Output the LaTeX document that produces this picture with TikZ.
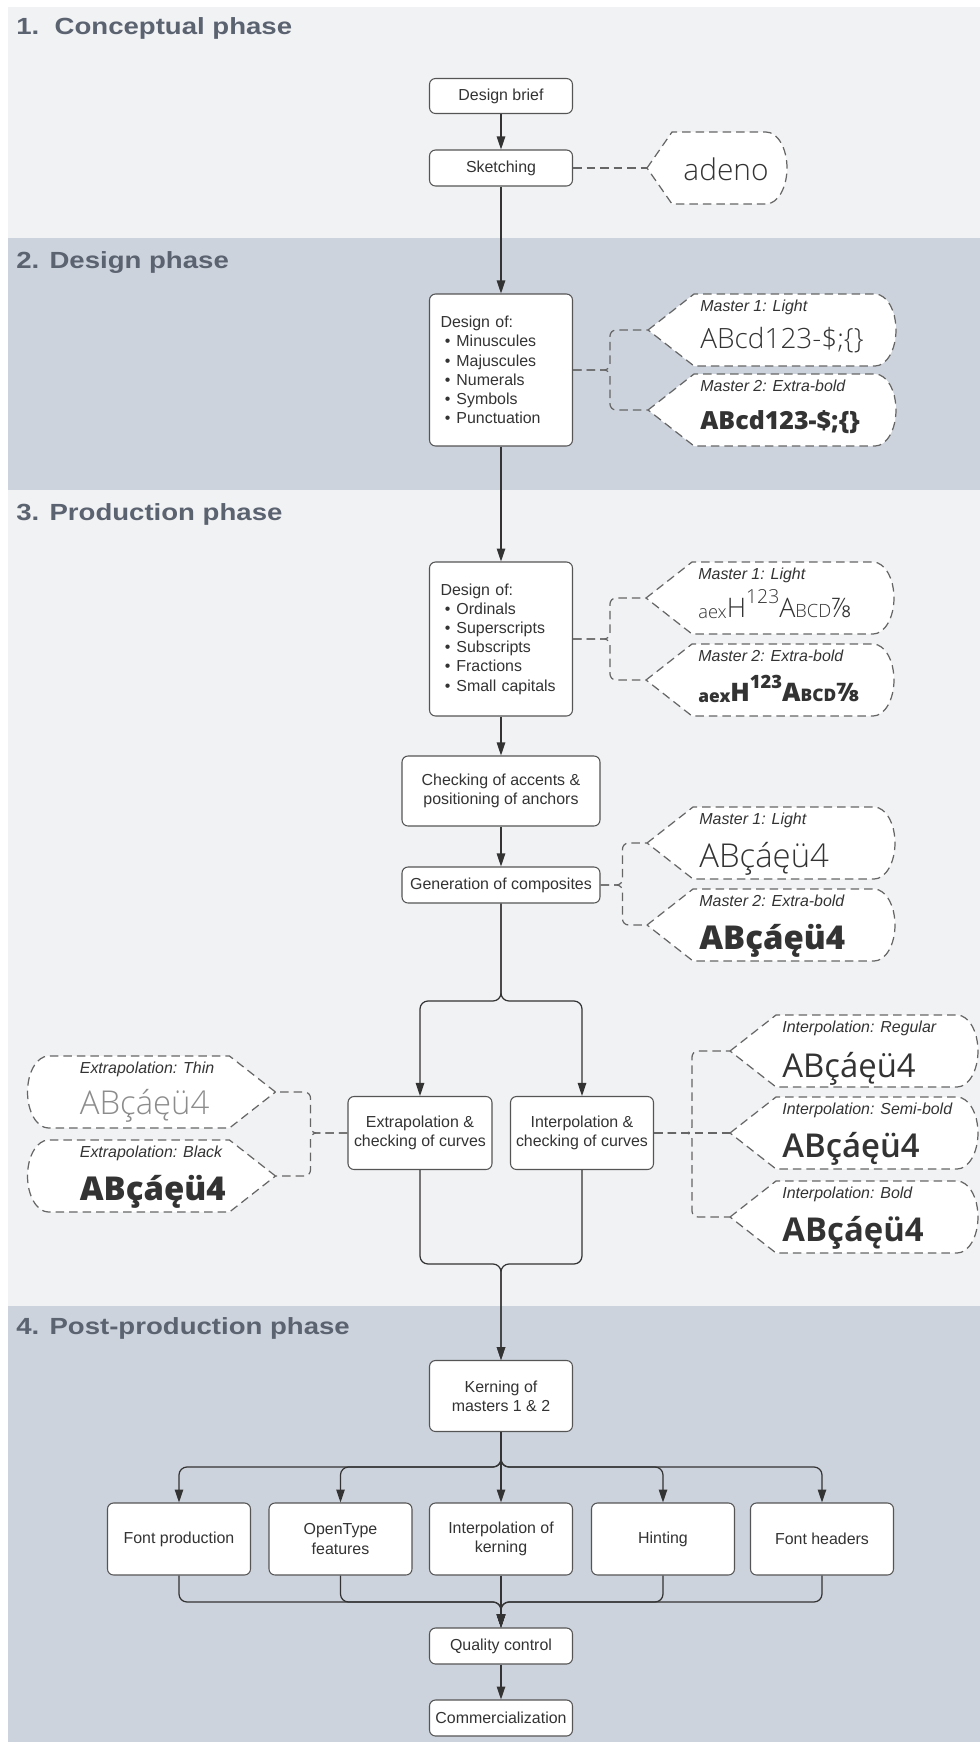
\documentclass[tikz,border=0pt]{standalone}
\usepackage{fontspec}
\usepackage{graphicx}
\usepackage{xcolor}
\usetikzlibrary{arrows.meta,calc}

\setmainfont{Liberation Sans}
\newfontfamily\headfont{Liberation Sans}[FakeStretch=1.18]
\newfontfamily\osreg{Open Sans}
\IfFontExistsTF{Open Sans Light}{\newfontfamily\oslight{Open Sans Light}}{\newfontfamily\oslight{Open Sans}}
\IfFontExistsTF{Open Sans Semibold}{\newfontfamily\ossemi{Open Sans Semibold}}{%
  \IfFontExistsTF{Open Sans SemiBold}{\newfontfamily\ossemi{Open Sans SemiBold}}{\newfontfamily\ossemi{Open Sans Bold}}}
\IfFontExistsTF{Open Sans Bold}{\newfontfamily\osbold{Open Sans Bold}}{\newfontfamily\osbold{Open Sans}}
\IfFontExistsTF{Open Sans Extrabold}{\newfontfamily\osxbold{Open Sans Extrabold}}{%
  \IfFontExistsTF{Open Sans ExtraBold}{\newfontfamily\osxbold{Open Sans ExtraBold}}{\newfontfamily\osxbold{Open Sans Bold}}}

\definecolor{bandlight}{HTML}{F1F2F4}
\definecolor{banddark}{HTML}{CDD3DC}
\definecolor{headgray}{HTML}{5B6270}
\definecolor{ink}{HTML}{333333}
\definecolor{boxline}{HTML}{555555}
\definecolor{dashgray}{HTML}{666666}
\definecolor{thingray}{HTML}{8C8C8C}

\newcommand\boxfont{\fontsize{9.07pt}{10.9pt}\selectfont}
\newcommand\tagfont{\fontsize{9.07pt}{10.9pt}\selectfont\itshape}
\newcommand\phasefont{\headfont\bfseries\fontsize{13.3pt}{16pt}\selectfont}
\newcommand\glyphsize[1]{\fontsize{#1}{#1}\selectfont}
\newcommand\bul{\hspace*{0.28em}\textbullet\hspace{0.37em}}
\newcommand\seveneighths{\iffontchar\font"215E \char"215E \else\raisebox{0.4em}{\scalebox{0.5}{7}}/\scalebox{0.5}{8}\fi}
\newcommand\ordsample{\raisebox{-0.06em}{\scalebox{0.68}{aex}}H\raisebox{0.5em}{\scalebox{0.72}{123}}A\scalebox{0.68}{BCD}\seveneighths}

% display callout, point on the left
\newcommand\calloutR[5]{%
  \node[frame] (#1) at #2 {};
  \draw[outline] (#1.west) -- ($(#1.north west)+(46,0)$) -- ($(#1.north east)+(-21,0)$)
    arc[start angle=90, end angle=-90, x radius=21, y radius=36] -- ($(#1.south west)+(46,0)$) -- cycle;
  \node[tag] (#1-tag) at ($(#1.north west)+(52,-17)$) {#3};
  \node[sample] (#1-txt) at ($(#1.north west)+(52,-#5)$) {#4};}
% display callout, point on the right
\newcommand\calloutL[5]{%
  \node[frame] (#1) at #2 {};
  \draw[outline] (#1.east) -- ($(#1.north east)+(-46,0)$) -- ($(#1.north west)+(21,0)$)
    arc[start angle=90, end angle=270, x radius=21, y radius=36] -- ($(#1.south east)+(-46,0)$) -- cycle;
  \node[tag] (#1-tag) at ($(#1.north west)+(52,-17)$) {#3};
  \node[sample] (#1-txt) at ($(#1.north west)+(52,-#5)$) {#4};}

\begin{document}
\begin{tikzpicture}[
    x=0.02cm, y=0.02cm,
    box/.style={draw=boxline, fill=white, rounded corners=0.12cm, line width=0.6pt,
                font=\boxfont, text=ink, align=center, inner sep=0.1cm,
                minimum width=2.86cm, minimum height=0.72cm},
    listbox/.style={box, align=left, text width=2.42cm, inner xsep=0.22cm},
    arrow/.style={-{Triangle[length=0.26cm, width=0.17cm]}, draw=ink, line width=0.7pt},
    link/.style={draw=dashgray, line width=0.7pt, dash pattern=on 0.17cm off 0.1cm},
    outline/.style={draw=dashgray, fill=white, line width=0.7pt, dash pattern=on 0.17cm off 0.1cm},
    frame/.style={minimum width=4.96cm, minimum height=1.44cm, inner sep=0pt, outer sep=0pt},
    tag/.style={anchor=base west, inner sep=0pt, font=\tagfont, text=ink},
    sample/.style={anchor=base west, inner sep=0pt, text=ink},
    phase/.style={anchor=base west, inner sep=0pt, font=\phasefont, text=headgray}
  ]
  \useasboundingbox (0,0) rectangle (980,-1742);

  % phase bands
  \fill[bandlight] (8,-7) rectangle (980,-238);
  \fill[banddark] (8,-238) rectangle (980,-490);
  \fill[bandlight] (8,-490) rectangle (980,-1306);
  \fill[banddark] (8,-1306) rectangle (980,-1742);

  \node[phase] (ph1) at (16,-34.5) {1.\ \ Conceptual phase};
  \node[phase] (ph2) at (16,-268) {2. Design phase};
  \node[phase] (ph3) at (16,-520) {3. Production phase};
  \node[phase] (ph4) at (16,-1334) {4. Post-production phase};

  % conceptual phase
  \node[box, minimum height=0.7cm] (brief) at (501,-96) {Design brief};
  \node[box] (sketch) at (501,-168) {Sketching};
  \node[frame, minimum width=2.8cm] (adeno) at (717,-168) {};
  \draw[outline] (adeno.west) -- ($(adeno.north west)+(25,0)$) -- ($(adeno.north east)+(-21,0)$)
    arc[start angle=90, end angle=-90, x radius=21, y radius=36] -- ($(adeno.south west)+(25,0)$) -- cycle;
  \node[sample, anchor=base] (adeno-txt) at (726,-180) {\oslight\glyphsize{17pt}adeno};

  \draw[arrow] (brief) -- (sketch);
  \draw[link] (sketch) -- (adeno.west);

  % design phase
  \node[listbox, minimum height=3.04cm] (des1) at (501,-370)
    {Design of:\\\bul Minuscules\\\bul Majuscules\\\bul Numerals\\\bul Symbols\\\bul Punctuation};
  \draw[arrow] (sketch) -- (des1);

  \calloutR{m1a}{(772,-330)}{Master 1: Light}{\oslight\glyphsize{15.9pt}ABcd123-\$;\{\}}{54}
  \calloutR{m2a}{(772,-410)}{Master 2: Extra-bold}{\osxbold\glyphsize{14.2pt}ABcd123-\$;\{\}}{55}
  \draw[link, rounded corners=0.12cm] (des1.east) -- ++(37,0) |- (m1a.west);
  \draw[link, rounded corners=0.12cm] (des1.east) -- ++(37,0) |- (m2a.west);

  % production phase
  \node[listbox, minimum height=3.08cm] (des2) at (501,-639)
    {Design of:\\\bul Ordinals\\\bul Superscripts\\\bul Subscripts\\\bul Fractions\\\bul Small capitals};
  \draw[arrow] (des1) -- (des2);

  \calloutR{m1b}{(770,-598)}{Master 1: Light}{\oslight\glyphsize{15.3pt}\ordsample}{55}
  \calloutR{m2b}{(770,-680)}{Master 2: Extra-bold}{\osxbold\glyphsize{14.5pt}\ordsample}{57}
  \draw[link, rounded corners=0.12cm] (des2.east) -- ++(37,0) |- (m1b.west);
  \draw[link, rounded corners=0.12cm] (des2.east) -- ++(37,0) |- (m2b.west);

  \node[box, minimum width=3.96cm, minimum height=1.4cm] (accents) at (501,-791)
    {Checking of accents \&\\positioning of anchors};
  \node[box, minimum width=3.96cm] (comp) at (501,-885) {Generation of composites};
  \draw[arrow] (des2) -- (accents);
  \draw[arrow] (accents) -- (comp);

  \calloutR{m1c}{(771,-843)}{Master 1: Light}{\oslight\glyphsize{18.7pt}ABçáęü4}{60}
  \calloutR{m2c}{(771,-925)}{Master 2: Extra-bold}{\osxbold\glyphsize{18.7pt}ABçáęü4}{60}
  \draw[link, rounded corners=0.12cm] (comp.east) -- ++(22,0) |- (m1c.west);
  \draw[link, rounded corners=0.12cm] (comp.east) -- ++(22,0) |- (m2c.west);

  \node[box, minimum width=2.88cm, minimum height=1.46cm] (extra) at (420,-1133)
    {Extrapolation \&\\checking of curves};
  \node[box, minimum height=1.46cm] (inter) at (582,-1133)
    {Interpolation \&\\checking of curves};
  \coordinate (split) at (501,-1001);
  \draw[arrow, rounded corners=0.16cm] (comp.south) -- (split) -| (extra.north);
  \draw[arrow, rounded corners=0.16cm] (comp.south) -- (split) -| (inter.north);

  \calloutL{xthin}{(151.5,-1092)}{Extrapolation: Thin}{\color{thingray}\oslight\glyphsize{18.7pt}ABçáęü4}{58}
  \calloutL{xblack}{(151.5,-1176)}{Extrapolation: Black}{\osxbold\glyphsize{18.7pt}ABçáęü4}{60}
  \draw[link, rounded corners=0.12cm] (extra.west) -- ++(-37,0) |- (xthin.east);
  \draw[link, rounded corners=0.12cm] (extra.west) -- ++(-37,0) |- (xblack.east);

  \calloutR{ireg}{(854,-1051)}{Interpolation: Regular}{\osreg\glyphsize{18.7pt}ABçáęü4}{62}
  \calloutR{isemi}{(854,-1133)}{Interpolation: Semi-bold}{\ossemi\glyphsize{18.7pt}ABçáęü4}{60}
  \calloutR{ibold}{(854,-1217)}{Interpolation: Bold}{\osbold\glyphsize{18.7pt}ABçáęü4}{60}
  \draw[link, rounded corners=0.12cm] (inter.east) -- ++(38,0) |- (ireg.west);
  \draw[link] (inter.east) -- (isemi.west);
  \draw[link, rounded corners=0.12cm] (inter.east) -- ++(38,0) |- (ibold.west);

  % post-production phase
  \node[box, minimum height=1.42cm] (kern) at (501,-1396) {Kerning of\\masters 1 \& 2};
  \coordinate (join) at (501,-1264);
  \draw[arrow, rounded corners=0.16cm] (extra.south) |- (join) -- (kern.north);
  \draw[arrow, rounded corners=0.16cm] (inter.south) |- (join) -- (kern.north);

  \node[box, minimum height=1.44cm] (fprod) at (179,-1539) {Font production};
  \node[box, minimum height=1.44cm] (otf) at (340.5,-1539) {OpenType\\features};
  \node[box, minimum height=1.44cm] (ikern) at (501,-1539) {Interpolation of\\kerning};
  \node[box, minimum height=1.44cm] (hint) at (663,-1539) {Hinting};
  \node[box, minimum height=1.44cm] (fhead) at (822,-1539) {Font headers};
  \node[box] (qc) at (501,-1646) {Quality control};
  \node[box] (comm) at (501,-1718) {Commercialization};

  \coordinate (fanout) at (501,-1467);
  \coordinate (fanin) at (501,-1602);
  \foreach \b in {fprod,otf,hint,fhead}{
    \draw[arrow, rounded corners=0.16cm] (kern.south) -- (fanout) -| (\b.north);
    \draw[arrow, rounded corners=0.16cm] (\b.south) |- (fanin) -- (qc.north);
  }
  \draw[arrow] (kern) -- (ikern);
  \draw[arrow] (ikern) -- (qc);
  \draw[arrow] (qc) -- (comm);

\end{tikzpicture}
\end{document}
